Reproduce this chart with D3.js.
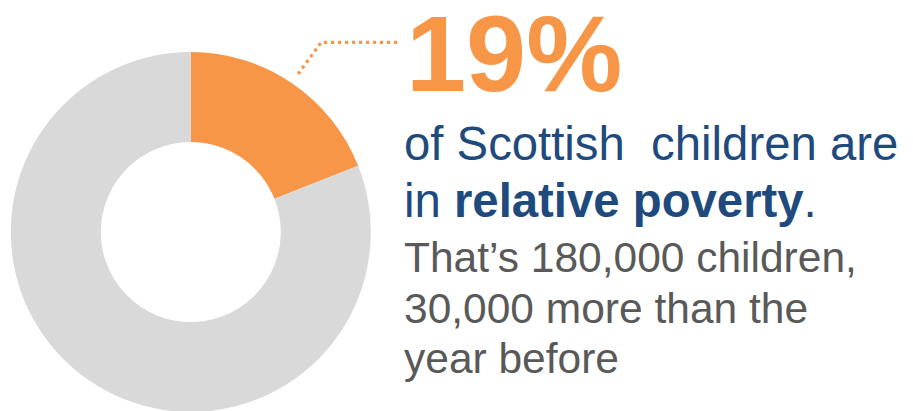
<!DOCTYPE html>
<html><head><meta charset="utf-8">
<script src="https://cdn.jsdelivr.net/npm/d3@7"></script>
<style>html,body{margin:0;padding:0;background:#fff;}svg{display:block;}</style>
</head><body>
<script>
const categories = ["In relative poverty", "Not in relative poverty"];
const values = [19, 81];
const colors = ["#F79646", "#D9D9D9"];
const headline = "19%";
const blueLine1 = "of Scottish\u00a0\u00a0children are";
const blueLine2Plain = "in ";
const blueLine2Bold = "relative poverty";
const blueLine2End = ".";
const greyLines = ["That\u2019s 180,000 children,", "30,000 more than the", "year before"];

const W = 913, H = 411;
const svg = d3.select("body").append("svg").attr("width", W).attr("height", H);

const cx = 190.8, cy = 232, rOuter = 180, rInner = 90;
const pie = d3.pie().sort(null).value(d => d);
const arcs = pie(values);
const arc = d3.arc().innerRadius(rInner).outerRadius(rOuter);
const color = d3.scaleOrdinal().domain(categories).range(colors);

const g = svg.append("g").attr("transform", `translate(${cx},${cy})`);
g.selectAll("path").data(arcs).join("path")
  .attr("d", arc)
  .attr("fill", (d, i) => color(categories[i]));

// leader line from middle of highlighted slice
const a0 = arcs[0];
const mid = (a0.startAngle + a0.endAngle) / 2;
const p1 = [cx + 191 * Math.sin(mid), cy - 191 * Math.cos(mid)];
const p2 = [cx + 232 * Math.sin(mid), 42.3];
const p3 = [400, 42.3];
svg.append("path")
  .attr("d", d3.line()([p1, p2, p3]))
  .attr("fill", "none")
  .attr("stroke", colors[0])
  .attr("stroke-width", 3.2)
  .attr("stroke-dasharray", "3.2,3.8");

svg.append("text")
  .attr("x", 406).attr("y", 91)
  .attr("font-family", "Liberation Sans, Arial, sans-serif")
  .attr("font-weight", "bold")
  .attr("font-size", 108)
  .attr("fill", colors[0])
  .text(headline);

const blue = "#1F4A7E";
svg.append("text")
  .attr("x", 404).attr("y", 160)
  .attr("font-family", "Liberation Sans, Arial, sans-serif")
  .attr("font-size", 47.3)
  .attr("fill", blue)
  .text(blueLine1);

const t2 = svg.append("text")
  .attr("x", 404).attr("y", 217)
  .attr("font-family", "Liberation Sans, Arial, sans-serif")
  .attr("font-size", 47.3)
  .attr("fill", blue);
t2.append("tspan").text(blueLine2Plain);
t2.append("tspan").attr("font-weight", "bold").text(blueLine2Bold);
t2.append("tspan").text(blueLine2End);

svg.selectAll("text.grey").data(greyLines).join("text")
  .attr("class", "grey")
  .attr("x", 404)
  .attr("y", (d, i) => 272 + i * 50.5)
  .attr("font-family", "Liberation Sans, Arial, sans-serif")
  .attr("font-size", 42.5)
  .attr("fill", "#595959")
  .text(d => d);
</script>
</body></html>
